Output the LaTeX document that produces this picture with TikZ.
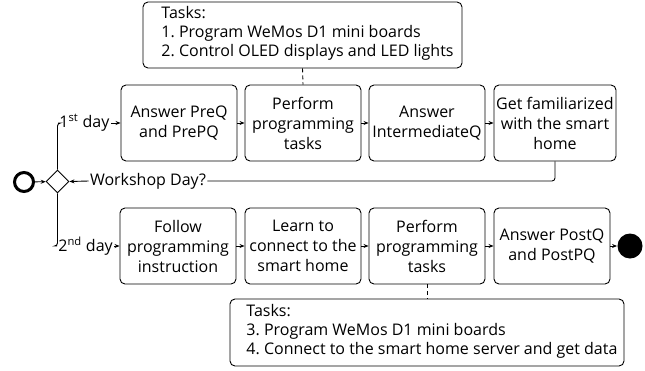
\documentclass[tikz,border=0pt]{standalone}
\usepackage{fontspec}
\setmainfont{Open Sans}
\usetikzlibrary{shapes.geometric,arrows.meta}
\frenchspacing
\begin{document}
\begin{tikzpicture}[x=1pt,y=-1pt,
  font=\fontsize{16}{20}\selectfont,
  line width=0.9pt,
  box/.style={draw,rounded corners=5pt,minimum height=76pt,minimum width=116pt,align=center,inner sep=0pt},
  taskbox/.style={draw,rounded corners=5pt,inner sep=0pt},
  tasktext/.style={anchor=west,align=left,inner sep=0pt,font=\fontsize{16}{19}\selectfont},
  arr/.style={-{Stealth[length=5pt,width=4pt]}},
  lbl/.style={inner sep=1pt},
  dashcon/.style={dash pattern=on 4pt off 3pt}]
\useasboundingbox (0,0) rectangle (645,370);
% top task box
\node[taskbox,minimum width=319pt,minimum height=66pt] (t1) at (302.5,35) {};
\node[tasktext] (t1txt) at (161,33) {Tasks:\\1. Program WeMos D1 mini boards\\2. Control OLED displays and LED lights};
% row 1
\node[box] (b1) at (179,123) {Answer PreQ\\and PrePQ};
\node[box] (b2) at (303,123) {Perform\\programming\\tasks};
\node[box] (b3) at (427,123) {Answer\\IntermediateQ};
\node[box,minimum width=122pt] (b4) at (555,123) {Get familiarized\\with the smart\\home};
% row 2
\node[box] (b5) at (178,246) {Follow\\programming\\instruction};
\node[box] (b6) at (303,246) {Learn to\\connect to the\\smart home};
\node[box] (b7) at (427,246) {Perform\\programming\\tasks};
\node[box] (b8) at (552,246) {Answer PostQ\\and PostPQ};
% bottom task box
\node[taskbox,minimum width=394pt,minimum height=67pt] (t2) at (427,332.5) {};
\node[tasktext] (t2txt) at (246,331) {Tasks:\\3. Program WeMos D1 mini boards\\4. Connect to the smart home server and get data};
% start, gateway, end
\node[circle,draw,line width=3pt,minimum size=19pt,inner sep=0pt] (start) at (24,182) {};
\node[diamond,draw,minimum width=23pt,minimum height=23pt,inner sep=0pt] (gw) at (57.5,181.5) {};
\node[circle,fill=black,minimum size=25pt,inner sep=0pt] (end) at (630,246) {};
% labels
\node[lbl,anchor=west] (l1) at (58,123) {1\textsuperscript{st} day};
\node[lbl,anchor=west] (l2) at (57,246) {2\textsuperscript{nd} day};
\node[lbl] (lw) at (148,181) {Workshop Day?};
% connectors
\draw[arr] (start) -- (gw);
\draw[rounded corners=3pt] (gw.north) |- (l1.west);
\draw[arr] (l1.east) -- (b1.west);
\draw[rounded corners=3pt] (gw.south) |- (l2.west);
\draw[arr] (l2.east) -- (b5.west);
\draw[arr] (b1) -- (b2);
\draw[arr] (b2) -- (b3);
\draw[arr] (b3) -- (b4);
\draw[rounded corners=3pt] (b4.south) |- (lw.east);
\draw[arr] (lw.west) -- (gw.east);
\draw[arr] (b5) -- (b6);
\draw[arr] (b6) -- (b7);
\draw[arr] (b7) -- (b8);
\draw[arr] (b8) -- (end);
\draw[dashcon] (t1.south) -- (b2.north);
\draw[dashcon] (b7.south) -- (t2.north);
\end{tikzpicture}
\end{document}
